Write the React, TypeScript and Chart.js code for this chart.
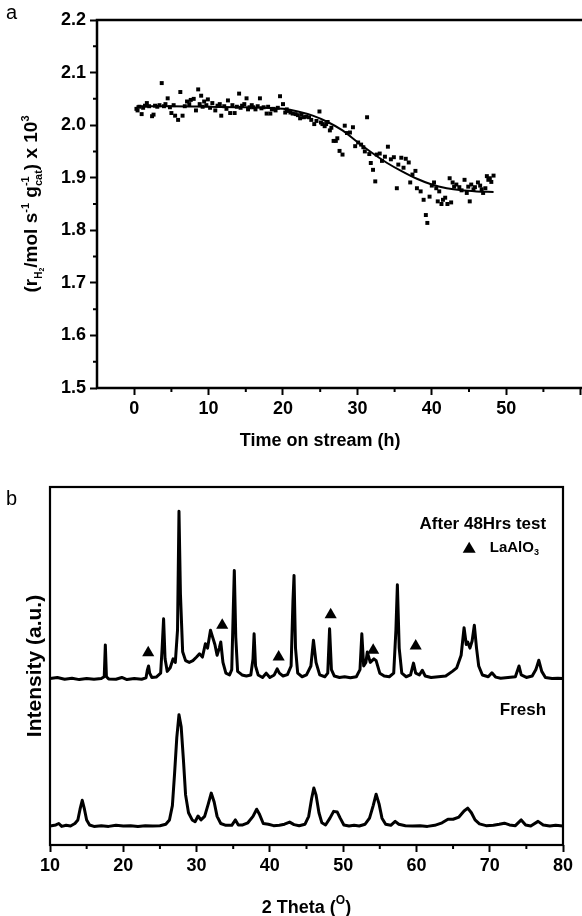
import React, { useEffect, useRef } from "react";
import { Chart, registerables } from "chart.js";
Chart.register(...registerables);

const FONT = '"Liberation Sans", Arial, Helvetica, sans-serif';

// ---------- Panel a: H2 formation rate vs time on stream ----------
const timeH = [
  0.3, 0.45, 0.7, 1.0, 1.2, 1.45, 1.7, 2.0, 2.4, 2.6, 2.8, 3.1, 3.4, 3.7, 4.0, 4.2, 4.5, 4.8, 5.0, 5.3,
  5.5, 5.9, 6.2, 6.5, 6.8, 7.1, 7.4, 7.6, 8.0, 8.3, 8.6, 8.8, 9.0, 9.2, 9.4, 9.7, 9.9, 10.2, 10.5, 10.9,
  11.2, 11.5, 11.7, 12.1, 12.4, 12.6, 12.9, 13.2, 13.5, 13.8, 14.1, 14.3, 14.5, 14.8, 15.1, 15.3, 15.5, 15.8, 16.0, 16.3,
  16.6, 16.9, 17.1, 17.4, 17.8, 18.0, 18.3, 18.5, 18.7, 19.0, 19.3, 19.6, 20.0, 20.3, 20.5, 20.8, 21.0, 21.3, 21.7, 22.0,
  22.3, 22.5, 22.8, 23.1, 23.5, 23.8, 24.2, 24.5, 24.9, 25.1, 25.3, 25.6, 25.8, 26.0, 26.3, 26.5, 26.8, 27.1, 27.3, 27.6,
  28.0, 28.3, 28.6, 29.0, 29.4, 29.7, 30.1, 30.5, 30.8, 31.0, 31.3, 31.6, 31.8, 32.1, 32.4, 32.6, 33.0, 33.3, 33.7, 34.1,
  34.5, 34.9, 35.3, 35.5, 35.9, 36.2, 36.5, 36.9, 37.1, 37.4, 37.8, 38.0, 38.5, 38.9, 39.2, 39.4, 39.7, 40.0, 40.3, 40.6,
  40.8, 41.0, 41.3, 41.5, 41.8, 42.1, 42.4, 42.6, 42.8, 43.0, 43.3, 43.7, 44.0, 44.4, 44.7, 44.9, 45.1, 45.3, 45.6, 45.8,
  46.2, 46.5, 46.7, 46.9, 47.2, 47.4, 47.6, 47.8, 48.0, 48.3,
];
const rateH2 = [
  2.031, 2.028, 2.035, 2.021, 2.033, 2.037, 2.042, 2.036, 2.017, 2.02, 2.037, 2.035, 2.038, 2.08, 2.036, 2.04, 2.051, 2.034, 2.023, 2.038,
  2.018, 2.01, 2.063, 2.018, 2.036, 2.045, 2.04, 2.048, 2.05, 2.028, 2.068, 2.04, 2.056, 2.035, 2.045, 2.038, 2.049, 2.033, 2.042, 2.028,
  2.037, 2.04, 2.018, 2.036, 2.031, 2.047, 2.023, 2.038, 2.023, 2.035, 2.06, 2.033, 2.037, 2.04, 2.051, 2.03, 2.034, 2.038, 2.034, 2.03,
  2.036, 2.051, 2.032, 2.034, 2.022, 2.035, 2.022, 2.03, 2.031, 2.028, 2.033, 2.055, 2.04, 2.024, 2.03, 2.027, 2.024, 2.022, 2.021, 2.019,
  2.013, 2.02, 2.015, 2.016, 2.015, 2.01, 2.002, 2.008, 2.026, 2.005, 2.002, 1.998, 2.002, 2.006, 1.99, 1.995, 1.97, 1.97, 1.975, 1.951,
  1.944, 1.999, 1.985, 1.986, 1.996, 1.96, 1.967, 1.963, 1.958, 1.95, 2.015, 1.945, 1.928, 1.915, 1.893, 1.944, 1.946, 1.932, 1.94, 1.959,
  1.935, 1.939, 1.88, 1.925, 1.938, 1.919, 1.936, 1.929, 1.891, 1.906, 1.913, 1.88, 1.874, 1.858, 1.829, 1.814, 1.864, 1.885, 1.891, 1.88,
  1.855, 1.874, 1.85, 1.858, 1.862, 1.85, 1.899, 1.853, 1.891, 1.883, 1.887, 1.882, 1.876, 1.896, 1.871, 1.883, 1.855, 1.887, 1.878, 1.882,
  1.891, 1.885, 1.878, 1.871, 1.88, 1.903, 1.896, 1.899, 1.892, 1.904,
];
const fitTimeH = [0.3, 5, 10, 15, 20, 22, 24, 26, 28, 30, 32, 34, 36, 38, 40, 42, 44, 46, 48.3];
const fitRateH2 = [2.036, 2.036, 2.035, 2.034, 2.031, 2.026, 2.018, 2.006, 1.99, 1.968, 1.947, 1.928, 1.912, 1.898, 1.887, 1.88, 1.876, 1.874, 1.873];
const timeTickLabels = [0, 10, 20, 30, 40, 50];

// ---------- Panel b: XRD patterns ----------
const after48hPattern: [number, number][] = [
  [10, 46.5], [11, 46.8], [12, 46.3], [13, 46.6], [14, 46.2], [15, 46.5], [16, 46.3], [17, 46.5], [17.4, 47], [17.55, 55.9],
  [17.7, 47], [18, 46.4], [19, 46.3], [19.8, 46.8], [20.5, 46.2], [21.5, 46.5], [22.5, 46.3], [23.1, 46.7], [23.3, 49], [23.45, 50],
  [23.6, 48], [23.9, 46.8], [24.5, 46.9], [25.1, 48], [25.3, 55], [25.5, 63.2], [25.7, 52], [26.0, 48.5], [26.4, 49.5], [26.8, 52],
  [27.1, 51], [27.4, 60], [27.6, 93.2], [27.8, 70], [28.1, 54], [28.5, 51.5], [29, 51], [29.5, 51.5], [30, 52.5], [30.4, 53.4],
  [30.8, 52.5], [31.2, 56.2], [31.5, 55], [31.9, 60], [32.2, 58], [32.5, 56], [32.8, 53], [33.1, 55], [33.3, 56.7], [33.6, 51],
  [34.0, 48], [34.5, 47.5], [34.8, 49], [35.0, 65], [35.15, 76.7], [35.35, 58], [35.6, 48.5], [36.2, 47.5], [36.8, 47.2], [37.4, 47.5],
  [37.7, 52], [37.85, 59], [38.05, 50], [38.4, 47.5], [39, 46.8], [39.5, 48], [40, 46.8], [40.6, 47.5], [41.0, 49.2], [41.3, 48],
  [41.8, 47.2], [42.4, 47.6], [42.9, 50], [43.15, 68], [43.3, 75.3], [43.5, 55], [43.8, 48], [44.4, 47], [45.0, 47.5], [45.6, 50],
  [45.95, 57.2], [46.3, 51], [46.8, 47.5], [47.5, 47], [47.9, 48], [48.15, 60.4], [48.4, 49], [48.8, 47.2], [49.5, 46.8], [50.2, 47],
  [51, 46.7], [51.8, 47], [52.3, 49], [52.55, 59], [52.8, 50], [53.1, 51], [53.3, 53.9], [53.7, 51], [54.2, 52], [54.5, 51.5],
  [55, 48], [55.6, 47.2], [56.3, 47], [56.9, 48], [57.2, 60], [57.4, 72.7], [57.65, 55], [58, 48], [58.6, 47], [59.2, 47.5],
  [59.6, 50.8], [59.9, 48], [60.4, 47.5], [60.8, 48.8], [61.2, 47.2], [62, 46.8], [63, 47], [64, 47.2], [64.9, 48.5], [65.5, 49.5],
  [66.1, 53], [66.5, 60.7], [66.8, 56], [67.0, 56.7], [67.3, 55], [67.6, 57], [67.9, 61.4], [68.2, 55], [68.5, 50], [69, 47.5],
  [69.8, 47], [70.3, 48.1], [70.8, 46.9], [71.5, 46.6], [72.5, 46.8], [73.5, 47], [74.0, 50], [74.3, 47.5], [75, 46.8], [75.8, 47.2],
  [76.3, 49], [76.7, 51.6], [77.1, 48.5], [77.6, 46.8], [78.5, 46.5], [79.3, 46.6], [80, 46.5],
];
const freshPattern: [number, number][] = [
  [10, 5.3], [10.8, 5.6], [11.2, 6.0], [11.6, 5.2], [12.2, 5.5], [12.8, 5.3], [13.4, 6], [13.8, 7], [14.1, 10], [14.4, 12.5],
  [14.7, 10], [15, 7], [15.4, 5.6], [16, 5.2], [17, 5.4], [18, 5.2], [19, 5.5], [20, 5.3], [21, 5.4], [22, 5.2],
  [23, 5.4], [24, 5.3], [25, 5.4], [25.8, 5.8], [26.3, 7], [26.7, 11], [27.0, 20], [27.3, 30], [27.6, 36.4], [27.9, 33],
  [28.2, 24], [28.5, 14], [28.9, 9], [29.4, 7], [29.8, 6.5], [30.2, 8.1], [30.6, 7], [31.1, 8], [31.6, 11.5], [32.0, 14.5],
  [32.4, 12], [32.8, 8], [33.3, 6], [34, 5.5], [34.8, 5.5], [35.3, 7], [35.7, 5.6], [36.3, 5.6], [37, 6.2], [37.7, 8],
  [38.2, 10], [38.6, 8.5], [39.1, 6], [39.8, 5.8], [40.5, 5.4], [41.3, 5.5], [42, 5.8], [42.7, 6.4], [43.3, 5.7], [44, 5.4],
  [44.8, 5.8], [45.3, 8], [45.7, 13], [46.0, 15.9], [46.3, 14], [46.7, 9], [47.1, 6.2], [47.6, 5.6], [48.2, 7.5], [48.7, 9.4],
  [49.2, 9.2], [49.6, 7.5], [50.1, 5.6], [50.8, 5.3], [51.5, 5.5], [52.2, 5.3], [53, 5.8], [53.6, 7.5], [54.1, 11], [54.5, 14.2],
  [54.9, 11.5], [55.3, 7.5], [55.8, 5.8], [56.5, 5.5], [57.1, 6.6], [57.6, 5.8], [58.5, 5.4], [59.5, 5.3], [60.5, 5.4], [61.5, 5.2],
  [62.5, 5.5], [63.5, 6.2], [64.3, 7.2], [65, 7.2], [65.8, 7.8], [66.5, 9.5], [67.0, 10.3], [67.5, 9], [68, 7], [68.6, 5.9],
  [69.5, 5.4], [70.5, 5.5], [71.3, 5.8], [72, 6.1], [72.7, 5.6], [73.5, 5.4], [74.3, 7], [74.9, 5.6], [75.6, 5.3], [76.6, 6.6],
  [77.3, 5.6], [78.2, 5.3], [79, 5.5], [80, 5.3],
];
const laalo3Theta = [23.4, 33.5, 41.2, 48.3, 54.1, 59.9];
const laalo3Mark = [53.7, 61.4, 52.5, 64.3, 54.4, 55.6];
const thetaTickLabels = [10, 20, 30, 40, 50, 60, 70, 80];

type Part = { t: string; size: number; dy?: number; adv?: boolean };

function drawRich(ctx: CanvasRenderingContext2D, parts: Part[], cx: number, cy: number, rotate: boolean, capSize: number) {
  ctx.save();
  ctx.translate(cx, cy);
  if (rotate) ctx.rotate(-Math.PI / 2);
  ctx.textAlign = "left";
  ctx.textBaseline = "alphabetic";
  ctx.fillStyle = "#000";
  const widths: number[] = [];
  let total = 0;
  for (const p of parts) {
    ctx.font = `bold ${p.size}px ${FONT}`;
    const w = ctx.measureText(p.t).width;
    widths.push(w);
    if (p.adv !== false) total += w;
  }
  let x = -total / 2;
  const base = capSize * 0.36;
  parts.forEach((p, i) => {
    ctx.font = `bold ${p.size}px ${FONT}`;
    ctx.fillText(p.t, x, base + (p.dy || 0));
    if (p.adv !== false) x += widths[i];
  });
  ctx.restore();
}

const tickFont = { family: FONT, size: 18, weight: "bold" as const };

const decoA = {
  id: "decoA",
  afterDraw(chart: any) {
    const { ctx, chartArea: a, scales } = chart;
    const xs = scales.x, ys = scales.y;
    ctx.save();
    ctx.strokeStyle = "#000";
    ctx.lineWidth = 2.5;
    ctx.beginPath();
    ctx.moveTo(a.right + 5, a.top);
    ctx.lineTo(a.left, a.top);
    ctx.lineTo(a.left, a.bottom);
    ctx.lineTo(a.right + 5, a.bottom);
    ctx.stroke();
    ctx.lineWidth = 2;
    ctx.beginPath();
    for (let v = 5; v <= 55; v += 10) {
      const px = xs.getPixelForValue(v);
      ctx.moveTo(px, a.bottom);
      ctx.lineTo(px, a.bottom + 4);
    }
    for (let k = 0; k < 7; k++) {
      const py = ys.getPixelForValue(1.55 + k * 0.1);
      ctx.moveTo(a.left, py);
      ctx.lineTo(a.left - 4, py);
    }
    ctx.stroke();
    ctx.restore();
    drawRich(ctx, [
      { t: "(r", size: 19 },
      { t: "H", size: 10, dy: 5 },
      { t: "2", size: 7, dy: 7 },
      { t: "/mol s", size: 19 },
      { t: "-1", size: 11, dy: -8 },
      { t: " g", size: 19 },
      { t: "-1", size: 11, dy: -8, adv: false },
      { t: "cat", size: 11, dy: 5 },
      { t: ")", size: 19 },
      { t: " x 10", size: 19 },
      { t: "3", size: 11, dy: -8 },
    ], 30, (a.top + a.bottom) / 2, true, 19);
    drawRich(ctx, [{ t: "Time on stream (h)", size: 18 }], xs.getPixelForValue(25), a.bottom + 52, false, 18);
  },
};

const decoB = {
  id: "decoB",
  afterDraw(chart: any) {
    const { ctx, chartArea: a, scales } = chart;
    const xs = scales.x, ys = scales.y;
    ctx.save();
    ctx.strokeStyle = "#000";
    ctx.lineWidth = 2.2;
    ctx.strokeRect(a.left, a.top, a.right - a.left, a.bottom - a.top);
    ctx.lineWidth = 2;
    ctx.beginPath();
    for (let v = 15; v <= 75; v += 10) {
      const px = xs.getPixelForValue(v);
      ctx.moveTo(px, a.bottom);
      ctx.lineTo(px, a.bottom + 4);
    }
    ctx.stroke();
    ctx.restore();
    drawRich(ctx, [{ t: "Intensity (a.u.)", size: 21 }], 33, (a.top + a.bottom) / 2, true, 21);
    drawRich(ctx, [
      { t: "2 Theta (", size: 18 },
      { t: "O", size: 12, dy: -9 },
      { t: ")", size: 18 },
    ], xs.getPixelForValue(45), a.bottom + 62, false, 18);
    ctx.save();
    ctx.fillStyle = "#000";
    ctx.textBaseline = "middle";
    ctx.textAlign = "right";
    ctx.font = `bold 17px ${FONT}`;
    ctx.fillText("After 48Hrs test", xs.getPixelForValue(77.7), ys.getPixelForValue(89.7));
    ctx.fillText("Fresh", xs.getPixelForValue(77.7), ys.getPixelForValue(37.7));
    // LaAlO3 legend
    const ly = ys.getPixelForValue(83);
    const tx = xs.getPixelForValue(67.2);
    ctx.beginPath();
    ctx.moveTo(tx, ly - 6);
    ctx.lineTo(tx + 6.5, ly + 5);
    ctx.lineTo(tx - 6.5, ly + 5);
    ctx.closePath();
    ctx.fill();
    ctx.textAlign = "left";
    ctx.font = `bold 15px ${FONT}`;
    const sx = xs.getPixelForValue(70);
    ctx.fillText("LaAlO", sx, ly);
    const w = ctx.measureText("LaAlO").width;
    ctx.font = `bold 9px ${FONT}`;
    ctx.fillText("3", sx + w, ly + 5);
    ctx.restore();
  },
};

function PanelA() {
  const ref = useRef<HTMLCanvasElement>(null);
  useEffect(() => {
    const chart = new Chart(ref.current!, {
      type: "scatter",
      data: {
        datasets: [
          {
            type: "line",
            data: fitTimeH.map((t, i) => ({ x: t, y: fitRateH2[i] })),
            borderColor: "#000",
            borderWidth: 2,
            pointRadius: 0,
            cubicInterpolationMode: "monotone",
            fill: false,
          } as any,
          {
            data: timeH.map((t, i) => ({ x: t, y: rateH2[i] })),
            pointStyle: "rect",
            pointRadius: 2.8,
            backgroundColor: "#000",
            borderWidth: 0,
          },
        ],
      },
      options: {
        responsive: false,
        animation: false,
        layout: { padding: { top: 20, left: 0, right: 0, bottom: 0 } },
        plugins: { legend: { display: false }, tooltip: { enabled: false } },
        scales: {
          x: {
            type: "linear",
            min: -5,
            max: 62.07,
            afterFit: (s: any) => { s.height = 62; },
            ticks: {
              stepSize: 10,
              includeBounds: false,
              autoSkip: false,
              maxRotation: 0,
              color: "#000",
              font: tickFont,
              padding: 3,
              callback: (v: any) => (timeTickLabels.includes(Number(v)) ? String(v) : ""),
            },
            grid: { drawOnChartArea: false, tickLength: 7, tickWidth: 2, tickColor: "#000" },
            border: { display: false },
          },
          y: {
            min: 1.5,
            max: 2.2,
            afterFit: (s: any) => { s.width = 97; },
            ticks: {
              stepSize: 0.1,
              color: "#000",
              font: tickFont,
              padding: 4,
              callback: (v: any) => Number(v).toFixed(1),
            },
            grid: { drawOnChartArea: false, tickLength: 7, tickWidth: 2, tickColor: "#000" },
            border: { display: false },
          },
        },
      },
      plugins: [decoA],
    });
    return () => chart.destroy();
  }, []);
  return <canvas ref={ref} width={600} height={450} style={{ display: "block" }} />;
}

function PanelB() {
  const ref = useRef<HTMLCanvasElement>(null);
  useEffect(() => {
    const chart = new Chart(ref.current!, {
      type: "line",
      data: {
        datasets: [
          {
            data: after48hPattern.map(([x, y]) => ({ x, y })),
            borderColor: "#000",
            borderWidth: 3,
            pointRadius: 0,
            tension: 0,
            borderJoinStyle: "round",
          },
          {
            data: freshPattern.map(([x, y]) => ({ x, y })),
            borderColor: "#000",
            borderWidth: 3,
            pointRadius: 0,
            tension: 0,
            borderJoinStyle: "round",
          },
          {
            data: laalo3Theta.map((x, i) => ({ x, y: laalo3Mark[i] })),
            showLine: false,
            pointStyle: "triangle",
            pointRadius: 7,
            backgroundColor: "#000",
            borderWidth: 0,
          },
        ],
      },
      options: {
        responsive: false,
        animation: false,
        layout: { padding: { top: 27, left: 0, right: 19, bottom: 0 } },
        plugins: { legend: { display: false }, tooltip: { enabled: false } },
        scales: {
          x: {
            type: "linear",
            min: 10,
            max: 80,
            afterFit: (s: any) => { s.height = 71; },
            ticks: {
              stepSize: 10,
              autoSkip: false,
              maxRotation: 0,
              color: "#000",
              font: tickFont,
              padding: 3,
              callback: (v: any) => (thetaTickLabels.includes(Number(v)) ? String(v) : ""),
            },
            grid: { drawOnChartArea: false, tickLength: 7, tickWidth: 2, tickColor: "#000" },
            border: { display: false },
          },
          y: {
            min: 0,
            max: 100,
            afterFit: (s: any) => { s.width = 50; },
            ticks: { display: false },
            grid: { display: false },
            border: { display: false },
          },
        },
      },
      plugins: [decoB],
    });
    return () => chart.destroy();
  }, []);
  return <canvas ref={ref} width={582} height={456} style={{ display: "block" }} />;
}

const letterStyle: React.CSSProperties = {
  position: "absolute",
  fontFamily: FONT,
  fontSize: 20,
  lineHeight: "20px",
  color: "#000",
};

export default function App() {
  return (
    <div style={{ position: "absolute", left: 0, top: 0, width: 582, height: 916, overflow: "hidden", background: "#fff" }}>
      <div style={{ position: "absolute", left: 0, top: 0, width: 600, height: 450 }}>
        <PanelA />
      </div>
      <div style={{ position: "absolute", left: 0, top: 460, width: 582, height: 456 }}>
        <PanelB />
      </div>
      <div style={{ ...letterStyle, left: 6, top: 2 }}>a</div>
      <div style={{ ...letterStyle, left: 6, top: 488 }}>b</div>
    </div>
  );
}
